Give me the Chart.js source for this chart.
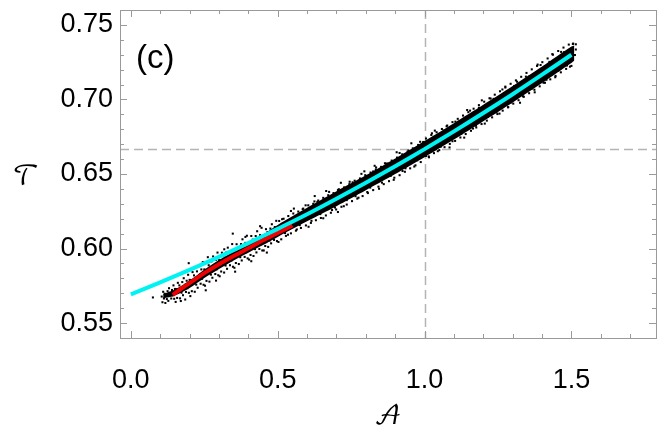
<!DOCTYPE html>
<html>
<head>
<meta charset="utf-8">
<script src="https://cdn.jsdelivr.net/npm/chart.js@4/dist/chart.umd.min.js"></script>
<style>
  body { margin: 0; background: #fff; }
  canvas { display: block; }
</style>
</head>
<body>
<canvas id="chart" width="664" height="443"></canvas>
<script>
"use strict";

// tick labels
const xTickValues = [0.0, 0.5, 1.0, 1.5];
const yTickValues = [0.55, 0.60, 0.65, 0.70, 0.75];

// reference lines
const refA = 1.0;
const refT = 0.6667;

// fitted curve (cyan)
const fitA = [0.0, 0.1, 0.2, 0.3, 0.4, 0.5, 0.6, 0.7, 0.8, 0.9, 1.0, 1.1, 1.2, 1.3, 1.4, 1.5];
const fitT = [0.5693, 0.5773, 0.5857, 0.5944, 0.6036, 0.6132, 0.6230, 0.6334, 0.6441, 0.6552, 0.6667, 0.6786, 0.6909, 0.7035, 0.7166, 0.7300];

// low-A curve (red)
const lowA = [0.143, 0.16, 0.18, 0.2, 0.25, 0.3, 0.35, 0.4, 0.45, 0.5, 0.55];
const lowT = [0.5688, 0.5715, 0.5742, 0.5768, 0.5835, 0.5895, 0.5950, 0.6002, 0.6055, 0.6105, 0.6155];

// dense core of the sample cloud
const coreA = [0.11, 0.15, 0.2, 0.25, 0.3, 0.35, 0.4, 0.45, 0.5, 0.6, 0.7, 0.8, 0.9, 1.0, 1.1, 1.2, 1.3, 1.4, 1.5, 1.51];
const coreHi = [0.5695, 0.5725, 0.5785, 0.5858, 0.5923, 0.5980, 0.6038, 0.6093, 0.6158, 0.6273, 0.6384, 0.6491, 0.6604, 0.6721, 0.6841, 0.6964, 0.7090, 0.7221, 0.7355, 0.7362];
const coreLo = [0.5665, 0.5685, 0.5735, 0.5802, 0.5863, 0.5920, 0.5972, 0.6023, 0.6078, 0.6183, 0.6284, 0.6391, 0.6500, 0.6613, 0.6731, 0.6854, 0.6980, 0.7111, 0.7245, 0.7262];

// scattered samples [A, T]
const samplesLow = [
  [0.075,0.5672],[0.105,0.5678],[0.1075,0.5640],[0.110,0.5710],[0.1125,0.5665],[0.115,0.5697],[0.1175,0.5635],
  [0.120,0.5682],[0.1225,0.5661],[0.125,0.5714],[0.1275,0.5649],[0.130,0.5734],[0.1325,0.5688],[0.135,0.5702],
  [0.1375,0.5665],[0.140,0.5722],[0.1425,0.5686],[0.145,0.5753],[0.1475,0.5663],[0.150,0.5729],[0.1525,0.5642],
  [0.155,0.5728],[0.1575,0.5669],[0.160,0.5770],[0.1625,0.5709],[0.165,0.5753],[0.1675,0.5666],[0.170,0.5733],
  [0.170,0.5648],[0.1725,0.5704],[0.175,0.5775],[0.1775,0.5687],[0.180,0.5801],[0.1825,0.5738],[0.185,0.5757],
  [0.185,0.5658],[0.1875,0.5709],[0.190,0.5784],[0.1925,0.5734],[0.195,0.5824],[0.197,0.5902],[0.1975,0.5703],
  [0.200,0.5790],[0.2025,0.5681],[0.205,0.5788],[0.2075,0.5714],[0.210,0.5842],[0.2125,0.5765],[0.215,0.5820],
  [0.215,0.5868],[0.2175,0.5710],[0.220,0.5795],[0.2225,0.5758],[0.225,0.5847],[0.2275,0.5737],[0.230,0.5881],
  [0.2325,0.5801],[0.235,0.5825],[0.2375,0.5764],[0.240,0.5860],[0.2425,0.5797],[0.245,0.5909],[0.2475,0.5757],
  [0.250,0.5860],[0.2525,0.5751],[0.255,0.5857],[0.255,0.5720],[0.2575,0.5783],[0.260,0.5911],[0.262,0.5942],
  [0.2625,0.5834],[0.265,0.5888],[0.2675,0.5778],[0.270,0.5862],[0.2725,0.5825],[0.275,0.5914],[0.2775,0.5804],
  [0.280,0.5947],[0.2825,0.5867],[0.285,0.5890],[0.2875,0.5829],[0.290,0.5924],[0.290,0.5785],[0.2925,0.5861],
  [0.295,0.5973],[0.2975,0.5821],[0.300,0.5923],[0.3025,0.5814],[0.305,0.5920],[0.3075,0.5846],[0.310,0.5972],
  [0.3125,0.5895],[0.315,0.5949],[0.3175,0.5839],[0.318,0.5995],[0.320,0.5923],[0.3225,0.5886],[0.325,0.5974],
  [0.3275,0.5864],[0.330,0.6006],[0.3325,0.5926],[0.335,0.5949],[0.3375,0.5888],[0.340,0.5983],[0.3425,0.5920],
  [0.345,0.6030],[0.347,0.6100],[0.3475,0.5878],[0.350,0.5980],[0.3525,0.5871],[0.355,0.5977],[0.355,0.5845],
  [0.3575,0.5903],[0.360,0.6029],[0.3625,0.5952],[0.365,0.6006],[0.3675,0.5896],[0.370,0.5979],[0.3725,0.5942],
  [0.375,0.6030],[0.3775,0.5920],[0.380,0.6062],[0.3825,0.5982],[0.385,0.6005],[0.3875,0.5944],[0.390,0.6038],
  [0.390,0.6078],[0.3925,0.5975],[0.395,0.6086],[0.3975,0.5934],[0.400,0.6035],[0.4025,0.5926],[0.405,0.6031],
  [0.4075,0.5957],[0.410,0.6084],[0.410,0.5915],[0.4125,0.6007],[0.415,0.6060],[0.4175,0.5950],[0.420,0.6033],
  [0.4225,0.5996],[0.425,0.6084],[0.4275,0.5974],[0.430,0.6116],[0.4325,0.6036],[0.435,0.6058],[0.4375,0.5997],
  [0.440,0.6091],[0.440,0.6150],[0.4425,0.6028],[0.445,0.6139],[0.4475,0.5987],[0.450,0.6085],[0.4525,0.5987],
  [0.455,0.6083],[0.4575,0.6017],[0.460,0.6130],[0.4625,0.6061],[0.463,0.5973],[0.465,0.6110],[0.4675,0.6011],
  [0.470,0.6087],[0.4725,0.6054],[0.475,0.6134],[0.4775,0.6035],[0.480,0.6163],[0.4825,0.6091],[0.485,0.6112],
  [0.4875,0.6058],[0.490,0.6144],[0.4925,0.6087],[0.495,0.6186],[0.4975,0.6050],[0.500,0.6142],[0.5025,0.6044]
];
const samplesMid = [
  [0.505,0.6185],[0.512,0.6062],[0.515,0.6197],[0.520,0.6200],[0.525,0.6104],[0.528,0.6085],[0.535,0.6093],
  [0.536,0.6218],[0.545,0.6102],[0.545,0.6252],[0.553,0.6235],[0.555,0.6268],[0.562,0.6120],[0.565,0.6128],
  [0.570,0.6248],[0.575,0.6157],[0.579,0.6138],[0.585,0.6264],[0.587,0.6268],[0.595,0.6290],[0.596,0.6155],
  [0.604,0.6290],[0.605,0.6146],[0.613,0.6172],[0.615,0.6186],[0.621,0.6300],[0.625,0.6316],[0.626,0.6352],
  [0.630,0.6190],[0.635,0.6313],[0.638,0.6322],[0.645,0.6231],[0.647,0.6205],[0.655,0.6340],[0.655,0.6203],
  [0.664,0.6222],[0.665,0.6386],[0.672,0.6358],[0.675,0.6380],[0.681,0.6240],[0.685,0.6258],[0.690,0.6372],
  [0.695,0.6275],[0.699,0.6262],[0.705,0.6245],[0.705,0.6392],[0.708,0.6398],[0.715,0.6441],[0.717,0.6280],
  [0.725,0.6284],[0.726,0.6410],[0.735,0.6325],[0.735,0.6295],[0.744,0.6432],[0.745,0.6448],[0.753,0.6318],
  [0.755,0.6444],[0.762,0.6455],[0.765,0.6351],[0.771,0.6335],[0.775,0.6341],[0.780,0.6470],[0.785,0.6501],
  [0.789,0.6352],[0.795,0.6518],[0.798,0.6492],[0.805,0.6379],[0.807,0.6372],[0.815,0.6409],[0.816,0.6510],
  [0.825,0.6392],[0.825,0.6517],[0.830,0.6555],[0.834,0.6530],[0.835,0.6544],[0.843,0.6415],[0.845,0.6401],
  [0.852,0.6548],[0.855,0.6442],[0.861,0.6432],[0.865,0.6572],[0.870,0.6570],[0.875,0.6570],[0.879,0.6452],
  [0.885,0.6488],[0.888,0.6590],[0.895,0.6461],[0.897,0.6475],[0.905,0.6646],[0.906,0.6610],[0.915,0.6641],
  [0.915,0.6492],[0.924,0.6632],[0.925,0.6520],[0.933,0.6515],[0.935,0.6538],[0.942,0.6650],[0.945,0.6657],
  [0.951,0.6538],[0.955,0.6706],[0.960,0.6672],[0.965,0.6550],[0.969,0.6558],[0.975,0.6592],[0.978,0.6695],
  [0.985,0.6716],[0.987,0.6580],[0.995,0.6712],[0.996,0.6715]
];
const samplesHigh = [
  [1.005,0.6738],[1.005,0.6621],[1.014,0.6618],[1.015,0.6612],[1.023,0.6762],[1.025,0.6773],[1.032,0.6640],
  [1.035,0.6791],[1.041,0.6780],[1.045,0.6653],[1.050,0.6660],[1.055,0.6683],[1.059,0.6802],[1.065,0.6792],
  [1.068,0.6680],[1.075,0.6820],[1.077,0.6825],[1.085,0.6678],[1.086,0.6702],[1.095,0.6848],[1.095,0.6720],
  [1.104,0.6722],[1.105,0.6851],[1.113,0.6870],[1.115,0.6850],[1.122,0.6745],[1.125,0.6770],[1.131,0.6892],
  [1.135,0.6744],[1.140,0.6768],[1.145,0.6929],[1.149,0.6915],[1.155,0.6925],[1.158,0.6790],[1.165,0.6805],
  [1.167,0.6938],[1.175,0.6824],[1.176,0.6812],[1.185,0.6962],[1.185,0.6944],[1.194,0.6835],[1.195,0.6994],
  [1.203,0.6985],[1.205,0.6838],[1.212,0.6858],[1.215,0.6882],[1.221,0.7008],[1.225,0.7006],[1.230,0.6880],
  [1.235,0.7004],[1.239,0.7032],[1.245,0.6914],[1.248,0.6902],[1.255,0.6905],[1.257,0.7055],[1.265,0.7067],
  [1.266,0.6925],[1.275,0.7080],[1.275,0.7086],[1.284,0.6948],[1.285,0.6948],[1.293,0.7105],[1.295,0.6980],
  [1.302,0.6972],[1.305,0.7090],[1.311,0.7128],[1.315,0.7119],[1.320,0.6995],[1.325,0.6978],[1.329,0.7152],
  [1.335,0.7021],[1.338,0.7018],[1.345,0.7153],[1.347,0.7178],[1.355,0.7153],[1.356,0.7042],[1.365,0.7202],
  [1.365,0.7073],[1.374,0.7065],[1.375,0.7048],[1.383,0.7225],[1.385,0.7234],[1.392,0.7088],[1.395,0.7231],
  [1.401,0.7250],[1.405,0.7112],[1.410,0.7112],[1.415,0.7132],[1.419,0.7275],[1.425,0.7252],[1.428,0.7135],
  [1.435,0.7304],[1.437,0.7300],[1.445,0.7149],[1.446,0.7158],[1.455,0.7194],[1.455,0.7325],[1.464,0.7182],
  [1.465,0.7319],[1.473,0.7348],[1.475,0.7317],[1.482,0.7205],[1.485,0.7228],[1.491,0.7368],[1.495,0.7220],
  [1.500,0.7225],[1.505,0.7372],[1.506,0.7375],[1.512,0.7298],[1.515,0.7370],[1.515,0.7335]
];

const tickFont = { family: "'Liberation Sans', Arial, sans-serif", size: 27 };
const scriptFont = "'DejaVu Math TeX Gyre', 'DejaVu Serif', 'DejaVu Sans', serif";

const toXY = (xs, ys) => xs.map((v, i) => ({ x: v, y: ys[i] }));
const samples = samplesLow.concat(samplesMid, samplesHigh).map(p => ({ x: p[0], y: p[1] }));

const framePlugin = {
    id: 'frame',
    beforeDatasetsDraw(chart) {
        const { ctx, chartArea: a, scales: { x, y } } = chart;
        ctx.save();
        ctx.strokeStyle = '#b4b4b4';
        ctx.lineWidth = 1.5;
        ctx.setLineDash([9, 5]);
        const px = Math.round(x.getPixelForValue(refA)) + 0.5;
        const py = Math.round(y.getPixelForValue(refT)) + 0.5;
        ctx.beginPath();
        ctx.moveTo(px, a.top); ctx.lineTo(px, a.bottom);
        ctx.moveTo(a.left, py); ctx.lineTo(a.right, py);
        ctx.stroke();
        ctx.restore();
    },
    afterDraw(chart) {
        const { ctx, chartArea: a, scales: { x, y } } = chart;
        ctx.save();
        ctx.strokeStyle = '#9a9a9a';
        ctx.lineWidth = 1;
        ctx.strokeRect(Math.round(a.left) + 0.5, Math.round(a.top) + 0.5,
            Math.round(a.right - a.left), Math.round(a.bottom - a.top));
        ctx.beginPath();
        for (let i = 0; i <= 17; i++) {
            const v = i / 10;
            const len = i % 5 === 0 ? 7 : 4;
            const px = Math.round(x.getPixelForValue(v)) + 0.5;
            ctx.moveTo(px, a.bottom); ctx.lineTo(px, a.bottom - len);
            ctx.moveTo(px, a.top); ctx.lineTo(px, a.top + len);
        }
        for (let i = 54; i <= 76; i++) {
            const v = i / 100;
            const len = i % 5 === 0 ? 7 : 4;
            const py = Math.round(y.getPixelForValue(v)) + 0.5;
            ctx.moveTo(a.left, py); ctx.lineTo(a.left + len, py);
            ctx.moveTo(a.right, py); ctx.lineTo(a.right - len, py);
        }
        ctx.stroke();

        ctx.fillStyle = '#000';
        ctx.textAlign = 'left';
        ctx.textBaseline = 'alphabetic';
        ctx.font = "33px 'Liberation Sans', Arial, sans-serif";
        ctx.fillText('(c)', a.left + 16, a.top + 58);

        ctx.textAlign = 'center';
        ctx.textBaseline = 'middle';
        ctx.font = '26px ' + scriptFont;
        ctx.fillText('\u{1D4AF}', 26, 177);
        ctx.fillText('\u{1D49C}', (a.left + a.right) / 2, 416);
        ctx.restore();
    }
};

new Chart(document.getElementById('chart').getContext('2d'), {
    type: 'scatter',
    data: {
        datasets: [
            {
                type: 'line',
                label: 'fit',
                data: toXY(fitA, fitT),
                borderColor: '#00f2f2',
                borderWidth: 4,
                pointRadius: 0,
                tension: 0.3,
                fill: false,
                order: 0
            },
            {
                type: 'line',
                label: 'low',
                data: toXY(lowA, lowT),
                borderColor: '#f00000',
                borderWidth: 4,
                pointRadius: 0,
                tension: 0.3,
                fill: false,
                order: 1
            },
            {
                label: 'samples',
                data: samples,
                pointStyle: 'rect',
                pointRadius: 1.45,
                pointBackgroundColor: '#000',
                pointBorderWidth: 0,
                order: 2
            },
            {
                type: 'line',
                label: 'coreHi',
                data: toXY(coreA, coreHi),
                borderWidth: 0,
                pointRadius: 0,
                tension: 0.3,
                backgroundColor: '#000',
                fill: '+1',
                order: 3
            },
            {
                type: 'line',
                label: 'coreLo',
                data: toXY(coreA, coreLo),
                borderWidth: 0,
                pointRadius: 0,
                tension: 0.3,
                fill: false,
                order: 4
            }
        ]
    },
    options: {
        responsive: false,
        animation: false,
        layout: { padding: { top: 10, right: 8, left: 0, bottom: 0 } },
        plugins: {
            legend: { display: false },
            tooltip: { enabled: false }
        },
        scales: {
            x: {
                type: 'linear',
                min: -0.037,
                max: 1.788,
                grid: { display: false, drawTicks: false },
                border: { display: false },
                afterFit: s => { s.height = 105; s.paddingLeft = 0; s.paddingRight = 0; },
                afterBuildTicks: s => { s.ticks = xTickValues.map(v => ({ value: v })); },
                ticks: {
                    padding: 26,
                    font: tickFont,
                    color: '#000',
                    maxRotation: 0,
                    autoSkip: false,
                    callback: v => Number(v).toFixed(1)
                }
            },
            y: {
                type: 'linear',
                min: 0.54,
                max: 0.76,
                grid: { display: false, drawTicks: false },
                border: { display: false },
                afterFit: s => { s.width = 120; s.paddingTop = 0; s.paddingBottom = 0; },
                afterBuildTicks: s => { s.ticks = yTickValues.map(v => ({ value: v })); },
                ticks: {
                    padding: 7,
                    font: tickFont,
                    color: '#000',
                    autoSkip: false,
                    callback: v => Number(v).toFixed(2)
                }
            }
        }
    },
    plugins: [framePlugin]
});
</script>
</body>
</html>
